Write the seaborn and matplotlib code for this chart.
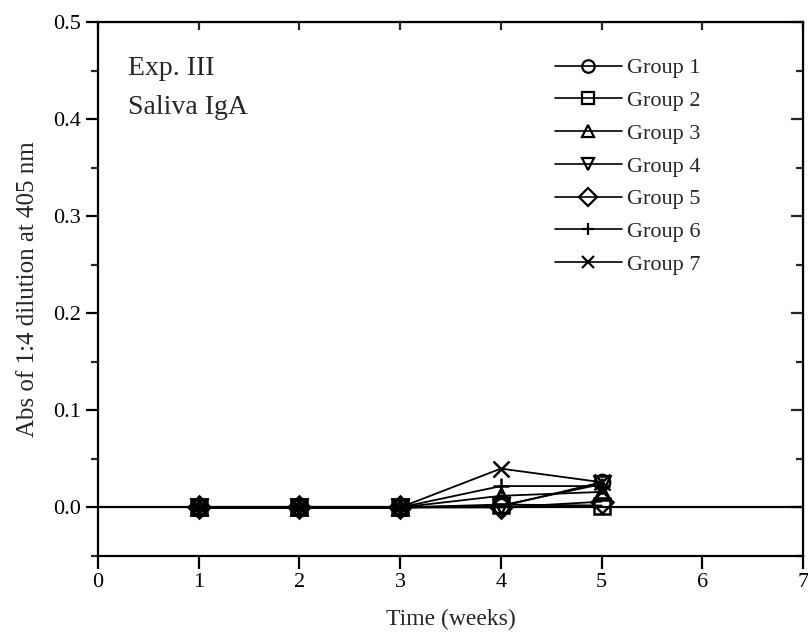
import numpy as np
import pandas as pd
import matplotlib
matplotlib.use("Agg")
import matplotlib.pyplot as plt
from matplotlib.lines import Line2D
from matplotlib.ticker import MultipleLocator
import seaborn as sns

# ---- data ----
weeks = [1, 2, 3, 4, 5]
groups = ["Group 1", "Group 2", "Group 3", "Group 4", "Group 5", "Group 6", "Group 7"]
group1 = [0.0, 0.0, 0.0, 0.001, 0.026]
group2 = [0.0, 0.0, 0.0, 0.003, 0.002]
group3 = [0.0, 0.0, 0.0, 0.012, 0.016]
group4 = [0.0, 0.0, 0.0, 0.002, 0.024]
group5 = [0.0, 0.0, 0.0, 0.0, 0.006]
group6 = [0.0, 0.0, 0.0, 0.022, 0.022]
group7 = [0.0, 0.0, 0.0, 0.040, 0.026]
series = [group1, group2, group3, group4, group5, group6, group7]
marker_list = ["o", "s", "^", "v", "D", "+", "x"]

df = pd.DataFrame({
    "week": np.tile(weeks, len(groups)),
    "abs": np.concatenate(series),
    "group": np.repeat(groups, len(weeks)),
})

sns.set_style("ticks")
plt.rcParams["font.family"] = ["Liberation Serif", "DejaVu Serif"]
plt.rcParams["mathtext.fontset"] = "stix"

fig = plt.figure(figsize=(8.08, 6.38), dpi=100)
ax = fig.add_axes([98 / 808, 1 - 556 / 638, (803 - 98) / 808, (556 - 22) / 638])

ax.axhline(0, color="black", lw=1.6, zorder=1)

for g, m in zip(groups, marker_list):
    sub = df[df["group"] == g]
    sns.lineplot(data=sub, x="week", y="abs", color="black", lw=1.3, legend=False, ax=ax,
                 marker=m, markersize=11, markerfacecolor="none", markeredgecolor="black",
                 markeredgewidth=1.8, zorder=3)

ax.set_xlim(0, 7)
ax.set_ylim(-0.05, 0.5)
ax.xaxis.set_major_locator(MultipleLocator(1))
ax.yaxis.set_major_locator(MultipleLocator(0.1))
ax.yaxis.set_minor_locator(MultipleLocator(0.05))
ax.yaxis.set_major_formatter(matplotlib.ticker.FormatStrFormatter("%.1f"))

for s in ax.spines.values():
    s.set_linewidth(1.6)
    s.set_color("black")

ax.tick_params(axis="both", which="major", direction="out", length=9, width=1.6,
               labelsize=16, colors="black")
ax.tick_params(axis="y", which="minor", direction="out", length=5, width=1.6)
# mirror ticks on top/right pointing inward
axt = ax.secondary_xaxis("top")
axt.xaxis.set_major_locator(MultipleLocator(1))
axt.tick_params(direction="in", length=6, width=1.6, labeltop=False)
axr = ax.secondary_yaxis("right")
axr.yaxis.set_major_locator(MultipleLocator(0.1))
axr.yaxis.set_minor_locator(MultipleLocator(0.05))
axr.tick_params(which="major", direction="in", length=9, width=1.6, labelright=False)
axr.tick_params(which="minor", direction="in", length=5, width=1.6)

ax.set_xlabel("Time (weeks)", fontsize=17, labelpad=12)
ax.set_ylabel("Abs of 1:4 dilution at 405 nm", fontsize=18, labelpad=10)

ax.text(0.043, 0.912, "Exp. III", transform=ax.transAxes, fontsize=20, va="center", ha="left")
ax.text(0.043, 0.840, "Saliva IgA", transform=ax.transAxes, fontsize=20, va="center", ha="left")

handles = [Line2D([0], [0], color="black", lw=1.2, marker=m, markersize=9,
                  markerfacecolor="none", markeredgecolor="black", markeredgewidth=1.6)
           for m in marker_list]
ax.legend(handles, groups, loc="upper left", bbox_to_anchor=(0.648, 0.933),
          frameon=False, fontsize=16, handlelength=3.0, handletextpad=0.25,
          labelspacing=0.55, borderpad=0, borderaxespad=0)

fig.savefig("out.png", dpi=100)
